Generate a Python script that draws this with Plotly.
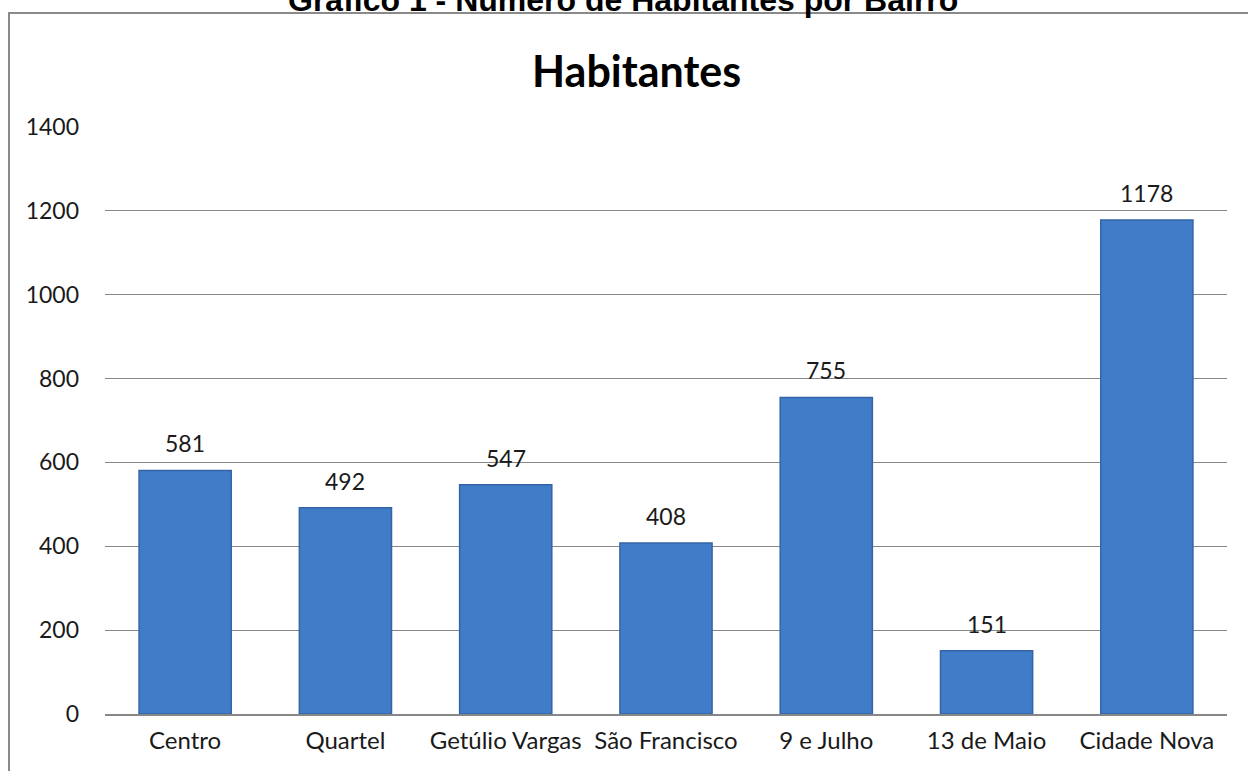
import plotly.graph_objects as go

bairros = ["Centro", "Quartel", "Getúlio Vargas", "São Francisco", "9 e Julho", "13 de Maio", "Cidade Nova"]
habitantes = [581, 492, 547, 408, 755, 151, 1178]
y_ticks = [0, 200, 400, 600, 800, 1000, 1200, 1400]

# the page's body margin is removed (post_script below), so figure pixels = window pixels
W, H = 1248, 771
PL, PR, PT, PB = 105, 1227, 127, 714          # plot area in window pixels
L, R, T, B = PL, W - PR, PT, H - PB
pw, ph = W - L - R, H - T - B

def px_x(p):
    return (p - L) / pw

def px_y(p):
    return (H - B - p) / ph

fig = go.Figure()
fig.add_trace(go.Bar(
    x=bairros, y=habitantes, width=0.575,
    marker=dict(color="#407CC8", line=dict(color="#3464A6", width=1.5)),
    hoverinfo="x+y",
))

for b, v in zip(bairros, habitantes):
    fig.add_annotation(x=b, y=v, text=str(v), showarrow=False, yshift=27,
                       font=dict(family="Lato, Open Sans, sans-serif", size=23, color="#1a1a1a"))

fig.add_annotation(xref="paper", yref="paper", x=px_x(636), y=px_y(70), text="<b>Habitantes</b>",
                   showarrow=False, xanchor="center", yanchor="middle",
                   font=dict(family="Lato, Open Sans, sans-serif", size=43, color="#000"))
fig.add_annotation(xref="paper", yref="paper", x=px_x(623), y=px_y(0),
                   text="<b>Gráfico 1 - Número de Habitantes por Bairro</b>",
                   showarrow=False, xanchor="center", yanchor="middle",
                   font=dict(family="Liberation Sans, Arial, sans-serif", size=32, color="#000"))

# outer frame: only its top and left sides fall inside the window
fig.add_shape(type="line", xref="paper", yref="paper",
              x0=px_x(8), x1=px_x(1248), y0=px_y(13), y1=px_y(13),
              line=dict(color="#8a8a8a", width=2), layer="below")
fig.add_shape(type="line", xref="paper", yref="paper",
              x0=px_x(9), x1=px_x(9), y0=px_y(12), y1=px_y(771),
              line=dict(color="#8a8a8a", width=2), layer="below")

fig.update_layout(
    width=W, height=H,
    margin=dict(l=L, r=R, t=T, b=B),
    paper_bgcolor="white", plot_bgcolor="white",
    showlegend=False,
    font=dict(family="Lato, Open Sans, sans-serif", size=23, color="#1a1a1a"),
)
fig.update_yaxes(range=[0, 1400], tickvals=y_ticks, showgrid=True, gridcolor="#878787", gridwidth=1,
                 zeroline=False, showline=False, ticklabelstandoff=25, automargin=False,
                 tickfont=dict(size=23))
fig.update_xaxes(showline=True, linecolor="#878787", linewidth=2, ticklabelstandoff=4,
                 automargin=False, tickfont=dict(size=24))

fig.write_html("out.html", config={"displayModeBar": False},
               post_script="document.body.style.margin='0';document.body.style.overflow='hidden';")
